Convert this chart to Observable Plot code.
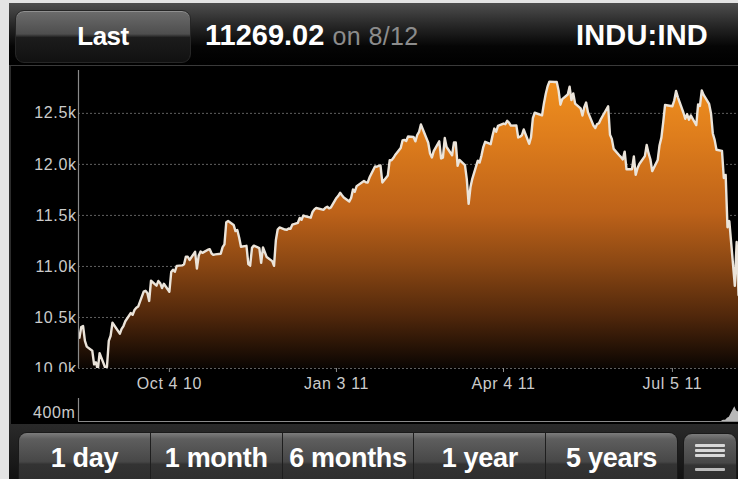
<!DOCTYPE html>
<html>
<head>
<meta charset="utf-8">
<script src="https://cdn.jsdelivr.net/npm/d3@7"></script>
<script src="https://cdn.jsdelivr.net/npm/@observablehq/plot@0.6"></script>
<style>
  html, body { margin: 0; padding: 0; background: #000; }
  body { width: 738px; height: 479px; overflow: hidden; position: relative; font-family: "Liberation Sans", Arial, Helvetica, sans-serif; }
  .abs { position: absolute; }
  #topbar { left: 9px; top: 3px; width: 729px; height: 62px; background: linear-gradient(#4e4e4e 0%, #282828 35%, #050505 70%, #000 100%); border-bottom: 1px solid #3a3a3a; }
  #lastbtn { left: 15px; top: 10px; width: 174px; height: 51px; border-radius: 9px; border: 1px solid #262626;
    background: linear-gradient(#6c6c6c 0%, #4e4e4e 45%, #1c1c1c 52%, #111 100%); box-shadow: inset 0 1px 0 rgba(255,255,255,0.25);
    color: #fff; font-weight: bold; font-size: 26px; text-align: center; line-height: 50px; letter-spacing: -0.5px; }
  #price { left: 205px; top: 19px; height: 32px; line-height: 32px; color: #fff; font-weight: bold; font-size: 29px; white-space: nowrap; letter-spacing: 0px; }
  #price span { color: #8c8c8c; font-weight: normal; font-size: 25px; letter-spacing: 0.4px; }
  #ticker { right: 30px; top: 19px; height: 32px; line-height: 32px; color: #fff; font-weight: bold; font-size: 29px; letter-spacing: 0.2px; }
  #chart { left: 0; top: 66px; }
  #vol { left: 0; top: 396px; }
  #toolbar { left: 9px; top: 424px; width: 729px; height: 55px; background: linear-gradient(#2a2a2a, #121212); }
  #seg { left: 18px; top: 432px; width: 658px; height: 60px; display: flex; border-radius: 9px 9px 0 0; overflow: hidden; border: 1px solid #1a1a1a; }
  .s { flex: 1 1 0; color: #fff; font-weight: bold; font-size: 27px; text-align: center; line-height: 50px;
    background: linear-gradient(#7c7c7c 0%, #5e5e5e 10%, #474747 48%, #333 52%, #2b2b2b 100%); border-right: 1px solid #1e1e1e; white-space: nowrap; letter-spacing: -0.3px; }
  .s:last-child { border-right: none; }
  #menu { left: 683px; top: 433px; width: 52px; height: 60px; border-radius: 9px 9px 0 0; border: 1px solid #1a1a1a;
    background: linear-gradient(#7c7c7c 0%, #5e5e5e 10%, #474747 48%, #333 52%, #2b2b2b 100%); }
  .bar { position: absolute; left: 11px; width: 30px; height: 3px; background: #d8d8d8; border-radius: 1px; }
</style>
</head>
<body>
<div class="abs" style="left:0;top:0;width:738px;height:3px;background:#e4e4e4"></div>
<div class="abs" style="left:0;top:0;width:9px;height:479px;background:#e4e4e4"></div>
<div class="abs" style="left:9px;top:3px;width:2px;height:476px;background:#2c2c2c"></div>
<div id="topbar" class="abs"></div>
<div id="lastbtn" class="abs">Last</div>
<div id="price" class="abs">11269.02 <span>on 8/12</span></div>
<div id="ticker" class="abs">INDU:IND</div>
<div id="chart" class="abs"></div>
<div class="abs" style="left:11px;top:372px;width:66px;height:6px;background:#000"></div>
<div id="vol" class="abs"></div>
<div id="toolbar" class="abs"></div>
<div id="seg" class="abs"></div>
<div id="menu" class="abs">
  <div class="bar" style="top:10px"></div>
  <div class="bar" style="top:15px"></div>
  <div class="bar" style="top:20px"></div>
  <div class="bar" style="top:34px;background:#bbb"></div>
</div>
<script>
// ---- Data (daily closes, INDU:IND) ----
const tradeDates = [
 "2010-08-16","2010-08-17","2010-08-18","2010-08-19","2010-08-20","2010-08-23","2010-08-24","2010-08-25","2010-08-26","2010-08-27","2010-08-30","2010-08-31",
 "2010-09-01","2010-09-02","2010-09-03","2010-09-07","2010-09-08","2010-09-09","2010-09-10","2010-09-13","2010-09-14","2010-09-15","2010-09-16","2010-09-17","2010-09-20","2010-09-21","2010-09-22","2010-09-23","2010-09-24","2010-09-27","2010-09-28","2010-09-29","2010-09-30",
 "2010-10-01","2010-10-04","2010-10-05","2010-10-06","2010-10-07","2010-10-08","2010-10-11","2010-10-12","2010-10-13","2010-10-14","2010-10-15","2010-10-18","2010-10-19","2010-10-20","2010-10-21","2010-10-22","2010-10-25","2010-10-26","2010-10-27","2010-10-28","2010-10-29",
 "2010-11-01","2010-11-02","2010-11-03","2010-11-04","2010-11-05","2010-11-08","2010-11-09","2010-11-10","2010-11-11","2010-11-12","2010-11-15","2010-11-16","2010-11-17","2010-11-18","2010-11-19","2010-11-22","2010-11-23","2010-11-24","2010-11-26","2010-11-29","2010-11-30",
 "2010-12-01","2010-12-02","2010-12-03","2010-12-06","2010-12-07","2010-12-08","2010-12-09","2010-12-10","2010-12-13","2010-12-14","2010-12-15","2010-12-16","2010-12-17","2010-12-20","2010-12-21","2010-12-22","2010-12-23","2010-12-27","2010-12-28","2010-12-29","2010-12-30","2010-12-31",
 "2011-01-03","2011-01-04","2011-01-05","2011-01-06","2011-01-07","2011-01-10","2011-01-11","2011-01-12","2011-01-13","2011-01-14","2011-01-18","2011-01-19","2011-01-20","2011-01-21","2011-01-24","2011-01-25","2011-01-26","2011-01-27","2011-01-28","2011-01-31",
 "2011-02-01","2011-02-02","2011-02-03","2011-02-04","2011-02-07","2011-02-08","2011-02-09","2011-02-10","2011-02-11","2011-02-14","2011-02-15","2011-02-16","2011-02-17","2011-02-18","2011-02-22","2011-02-23","2011-02-24","2011-02-25","2011-02-28",
 "2011-03-01","2011-03-02","2011-03-03","2011-03-04","2011-03-07","2011-03-08","2011-03-09","2011-03-10","2011-03-11","2011-03-14","2011-03-15","2011-03-16","2011-03-17","2011-03-18","2011-03-21","2011-03-22","2011-03-23","2011-03-24","2011-03-25","2011-03-28","2011-03-29","2011-03-30","2011-03-31",
 "2011-04-01","2011-04-04","2011-04-05","2011-04-06","2011-04-07","2011-04-08","2011-04-11","2011-04-12","2011-04-13","2011-04-14","2011-04-15","2011-04-18","2011-04-19","2011-04-20","2011-04-21","2011-04-25","2011-04-26","2011-04-27","2011-04-28","2011-04-29",
 "2011-05-02","2011-05-03","2011-05-04","2011-05-05","2011-05-06","2011-05-09","2011-05-10","2011-05-11","2011-05-12","2011-05-13","2011-05-16","2011-05-17","2011-05-18","2011-05-19","2011-05-20","2011-05-23","2011-05-24","2011-05-25","2011-05-26","2011-05-27","2011-05-31",
 "2011-06-01","2011-06-02","2011-06-03","2011-06-06","2011-06-07","2011-06-08","2011-06-09","2011-06-10","2011-06-13","2011-06-14","2011-06-15","2011-06-16","2011-06-17","2011-06-20","2011-06-21","2011-06-22","2011-06-23","2011-06-24","2011-06-27","2011-06-28","2011-06-29","2011-06-30",
 "2011-07-01","2011-07-05","2011-07-06","2011-07-07","2011-07-08","2011-07-11","2011-07-12","2011-07-13","2011-07-14","2011-07-15","2011-07-18","2011-07-19","2011-07-20","2011-07-21","2011-07-22","2011-07-25","2011-07-26","2011-07-27","2011-07-28","2011-07-29",
 "2011-08-01","2011-08-02","2011-08-03","2011-08-04","2011-08-05","2011-08-08","2011-08-09","2011-08-10","2011-08-11","2011-08-12"
];
const closes = [
 10302,10406,10416,10271,10214,10174,10040,10060,9986,10150,10010,10015,
 10270,10321,10448,10341,10388,10416,10463,10544,10526,10573,10595,10607,10753,10761,10739,10662,10860,10812,10858,10836,10788,
 10830,10752,10945,10968,10948,11006,11010,11021,11096,11095,11063,11143,10979,11108,11146,11133,11164,11169,11126,11113,11118,
 11125,11189,11216,11434,11445,11407,11347,11357,11283,11193,11202,11023,11008,11182,11204,11179,11036,11187,11092,11052,11006,
 11256,11362,11382,11362,11359,11372,11370,11410,11428,11476,11457,11499,11492,11478,11534,11559,11573,11555,11575,11585,11569,11578,
 11671,11691,11722,11697,11675,11637,11671,11755,11732,11787,11837,11825,11822,11871,11980,11977,11985,11989,11823,11892,
 12040,12041,12062,12092,12161,12234,12240,12229,12273,12268,12226,12288,12318,12391,12212,12106,12068,12130,12226,
 12058,12066,12258,12170,12090,12214,12214,11985,12044,11993,11855,11613,11775,11859,12037,12018,12086,12170,12221,12198,12280,12351,12320,
 12377,12400,12394,12427,12409,12380,12382,12264,12271,12285,12342,12202,12267,12453,12506,12480,12595,12690,12763,12811,
 12808,12807,12724,12585,12639,12685,12761,12630,12696,12596,12549,12479,12560,12606,12512,12381,12357,12395,12403,12442,12570,
 12290,12249,12152,12090,12071,12049,12125,11952,11953,12077,11897,11962,12004,12081,12191,12110,12050,11934,12043,12188,12262,12414,
 12582,12570,12626,12719,12657,12506,12447,12492,12438,12480,12385,12588,12572,12724,12681,12592,12502,12303,12240,12143,
 12132,11867,11897,11384,11445,10810,11240,10720,11143,11269
];
// volume (millions) — only the final days rise visibly in the volume strip
const volDates = ["2011-08-01","2011-08-02","2011-08-03","2011-08-04","2011-08-05","2011-08-08","2011-08-09","2011-08-10"];
const volumes  = [40, 60, 60, 150, 200, 700, 500, 450];

const yTicks = [10000, 10500, 11000, 11500, 12000, 12500];
const yTickLabels = ["10.0k", "10.5k", "11.0k", "11.5k", "12.0k", "12.5k"];
const xTickDates = ["2010-10-04", "2011-01-03", "2011-04-04", "2011-07-05"];
const xTickLabels = ["Oct 4 10", "Jan 3 11", "Apr 4 11", "Jul 5 11"];
const volTicks = [400];
const volTickLabels = ["400m"];

// ---- Build tables ----
const data = tradeDates.map((d, i) => ({date: new Date(d + "T00:00Z"), close: closes[i]}));
const volData = volDates.map((d, i) => ({date: new Date(d + "T00:00Z"), vol: volumes[i]}));
const xTicks = xTickDates.map(d => new Date(d + "T00:00Z"));
const xDomain = [new Date("2010-08-15T12:00Z"), new Date("2011-08-10T00:00Z")];

const font = "'Liberation Sans', Arial, Helvetica, sans-serif";
const labelStyle = {background: "transparent", color: "#cbcbcb", fontFamily: font, fontSize: "16px", letterSpacing: "0.6px"};

const chart = Plot.plot({
  width: 738, height: 330,
  marginLeft: 78, marginRight: 0, marginTop: 4, marginBottom: 28,
  style: labelStyle,
  x: {type: "utc", domain: xDomain, label: null},
  y: {domain: [10000, 12920], label: null},
  marks: [
    Plot.gridY(yTicks, {stroke: "#a0a0a0", strokeOpacity: 0.6, strokeDasharray: "2,2", strokeWidth: 1}),
    Plot.areaY(data, {x: "date", y1: 10000, y2: "close", fill: "url(#orangeGrad)", clip: true}),
    Plot.lineY(data, {x: "date", y: "close", stroke: "#ebe4da", strokeWidth: 2.4, clip: true}),
    Plot.ruleX([xDomain[0]], {stroke: "#8a8a8a", strokeWidth: 1.2}),
    Plot.axisY(yTicks, {label: null, tickSize: 0, tickPadding: 2, tickFormat: (d, i) => yTickLabels[i], fill: "#cbcbcb", fontSize: 16}),
    Plot.axisX(xTicks, {label: null, tickSize: 4, tickPadding: 5, stroke: "#8a8a8a", tickFormat: (d, i) => xTickLabels[i], fill: "#cbcbcb", fontSize: 16})
  ]
});

// gradient definition for the area fill
const svgEl = chart.tagName.toLowerCase() === "svg" ? chart : chart.querySelector("svg");
const defs = d3.select(svgEl).insert("defs", ":first-child");
const grad = defs.append("linearGradient").attr("id", "orangeGrad")
  .attr("gradientUnits", "userSpaceOnUse").attr("x1", 0).attr("x2", 0).attr("y1", 14).attr("y2", 302);
[[0, "#f0901f"], [0.2, "#de7d1c"], [0.46, "#bd6219"], [0.64, "#8a4713"], [0.82, "#50270b"], [1, "#0a0502"]]
  .forEach(([o, c]) => grad.append("stop").attr("offset", o).attr("stop-color", c));
document.getElementById("chart").appendChild(chart);

const vol = Plot.plot({
  width: 738, height: 27,
  marginLeft: 78, marginRight: 0, marginTop: 2, marginBottom: 2,
  style: labelStyle,
  x: {type: "utc", domain: xDomain, axis: null},
  y: {domain: [0, 1100], label: null},
  marks: [
    Plot.areaY(volData, {x: "date", y: "vol", fill: "#b8b8b8", clip: true}),
    Plot.ruleY([0], {stroke: "#8a8a8a", strokeWidth: 1.2}),
    Plot.ruleX([xDomain[0]], {stroke: "#8a8a8a", strokeWidth: 1.2}),
    Plot.axisY(volTicks, {label: null, tickSize: 0, tickPadding: 3, tickFormat: (d, i) => volTickLabels[i], fill: "#cbcbcb", fontSize: 16})
  ]
});
document.getElementById("vol").appendChild(vol);

// bottom segmented control labels
const periods = ["1 day", "1 month", "6 months", "1 year", "5 years"];
const seg = document.getElementById("seg");
periods.forEach(p => { const d = document.createElement("div"); d.className = "s"; d.textContent = p; seg.appendChild(d); });
</script>
</body>
</html>
